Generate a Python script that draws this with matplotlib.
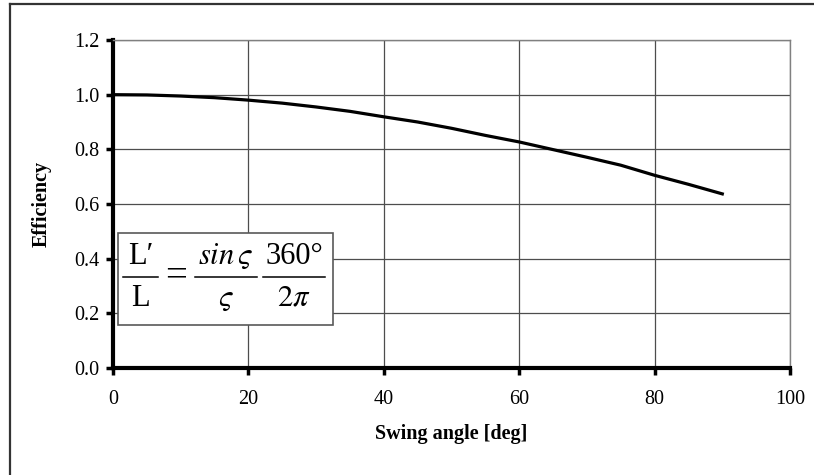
#!/usr/bin/env python3
"""Efficiency of a swung element vs. swing angle (Excel-style line chart)."""
import numpy as np
import matplotlib
matplotlib.use("Agg")
import matplotlib.pyplot as plt
from matplotlib.lines import Line2D
from matplotlib.patches import Rectangle

plt.rcParams["font.family"] = ["Liberation Serif", "DejaVu Serif"]
plt.rcParams["mathtext.fontset"] = "stix"

# swing angle [deg] and efficiency
angle = [0, 5, 10, 15, 20, 25, 30, 35, 40, 45, 50, 55, 60, 65, 70, 75, 80, 85, 90]
efficiency = [1.000, 0.999, 0.995, 0.989, 0.980, 0.969, 0.955, 0.939, 0.919,
              0.900, 0.877, 0.851, 0.827, 0.799, 0.771, 0.742, 0.705, 0.672, 0.637]
xticks = [0, 20, 40, 60, 80, 100]
yticks = [0.0, 0.2, 0.4, 0.6, 0.8, 1.0, 1.2]

W, H = 814, 475
fig = plt.figure(figsize=(W / 100, H / 100), dpi=100)
ax = fig.add_axes([113 / W, 1 - 368 / H, (790 - 113) / W, (368 - 40) / H])

ax.plot(angle, efficiency, color="black", lw=2.3, solid_joinstyle="round", zorder=4)

ax.set_xlim(0, 100)
ax.set_ylim(0, 1.2)
ax.set_xticks(xticks)
ax.set_yticks(yticks)
ax.set_yticklabels([f"{v:.1f}" for v in yticks])
ax.grid(True, color="0.3", lw=0.9, zorder=0)
ax.tick_params(direction="out", length=5, width=2.5, labelsize=14.5, pad=5)
ax.tick_params(axis="x", pad=11)

for side in ("left", "bottom"):
    ax.spines[side].set_linewidth(3)
    ax.spines[side].set_color("black")
for side in ("top", "right"):
    ax.spines[side].set_linewidth(1)
    ax.spines[side].set_color("0.5")

ax.set_xlabel("Swing angle [deg]", fontsize=14.5, fontweight="bold", labelpad=11)
ax.set_ylabel("Efficiency", fontsize=14.5, fontweight="bold", labelpad=16)

# formula box: fractions built by hand so numerators stay full size
def px(x):  # pixel column -> data x
    return (x - 113) / 6.77

x0, x1 = px(118), px(333)
y0, y1 = 0.157, 0.494
ax.add_patch(Rectangle((x0, y0), x1 - x0, y1 - y0, facecolor="white",
                       edgecolor="0.35", lw=1.2, zorder=5))
y_num, y_bar, y_den = 0.408, 0.333, 0.256
fs = 22
fracs = [(123, 158, "L\u2032", "L"),
         (195, 257, r"$sin\,\varsigma$", r"$\varsigma$"),
         (263, 325, "360\u00b0", r"$2\pi$")]
for a, b, num, den in fracs:
    xa, xb = px(a), px(b)
    ax.plot([xa, xb], [y_bar, y_bar], color="black", lw=1.1, zorder=6)
    ax.text((xa + xb) / 2, y_num, num, ha="center", va="center", fontsize=fs, zorder=6)
    ax.text((xa + xb) / 2, y_den, den, ha="center", va="center", fontsize=fs, zorder=6)
ax.text(px(176), y_bar, "=", ha="center", va="center", fontsize=28, zorder=6)

# outer frame (only top and left edges are inside the picture)
fig.add_artist(Line2D([10 / W, 1], [1 - 4 / H, 1 - 4 / H], transform=fig.transFigure,
                      color="0.2", lw=1.6))
fig.add_artist(Line2D([10 / W, 10 / W], [0, 1 - 4 / H], transform=fig.transFigure,
                      color="0.2", lw=1.6))

fig.savefig("out.png", dpi=100, facecolor="white")
